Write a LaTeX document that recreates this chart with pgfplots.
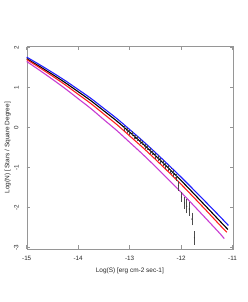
\documentclass[border=0pt]{standalone}
\usepackage{pgfplots}
\pgfplotsset{compat=1.18}
\usepackage{fontspec}
\setmainfont{Liberation Sans}
\definecolor{axgray}{RGB}{150,150,150}
\definecolor{mag}{RGB}{200,60,210}
\definecolor{bl}{RGB}{30,30,255}
\definecolor{rd}{RGB}{255,30,30}
\begin{document}
\begin{tikzpicture}[x=1bp,y=1bp]
\useasboundingbox (0,0) rectangle (248,302);
\begin{axis}[at={(26.7bp,53bp)}, anchor=south west, scale only axis,
 width=206.3bp, height=202.3bp,
 xmin=-15, xmax=-10.99, ymin=-3.04, ymax=2.02,
 axis line style={axgray}, tick style={axgray, line width=0.5bp}, major tick length=3.5bp,
 tick align=inside,
 xtick={-15,-14,-13,-12,-11}, ytick={-3,-2,-1,0,1,2},
 /pgf/number format/assume math mode=true,
 tick label style={font=\fontsize{6.3}{7}\selectfont, text=black!85},
 yticklabel style={rotate=90, anchor=south, inner sep=0pt}, yticklabel shift=8bp,
 xticklabel style={anchor=north, inner sep=0pt}, xticklabel shift=6.5bp,
 label style={font=\fontsize{6.5}{7}\selectfont, text=black!85},
 xlabel={Log(S) [erg cm-2 sec-1]},
 ylabel={Log(N) [ Stars / Square Degree]},
 xlabel style={at={(axis description cs:0.5,-0.107)}, anchor=center},
 ylabel style={at={(axis description cs:-0.092,0.5)}, anchor=center, rotate=0},
 clip=false,
]
\addplot[bl, line width=1.1bp, smooth] coordinates {
(-15,1.76) (-14.75,1.571) (-14.5,1.375) (-14.25,1.17) (-14,0.95) (-13.75,0.725)
(-13.5,0.475) (-13.25,0.225) (-13,-0.05) (-12.75,-0.33) (-12.5,-0.625) (-12.25,-0.93)
(-12,-1.24) (-11.75,-1.563) (-11.5,-1.89) (-11.25,-2.22) (-11.08,-2.45)};
\addplot[black, line width=1.1bp, smooth] coordinates {
(-15,1.72) (-14.75,1.527) (-14.5,1.327) (-14.25,1.119) (-14,0.895) (-13.75,0.667)
(-13.5,0.415) (-13.25,0.162) (-13,-0.115) (-12.75,-0.40) (-12.5,-0.70) (-12.25,-1.01)
(-12,-1.325) (-11.75,-1.658) (-11.5,-1.995) (-11.25,-2.335) (-11.09,-2.55)};
\addplot[rd, line width=1.1bp, smooth] coordinates {
(-15,1.70) (-14.75,1.496) (-14.5,1.285) (-14.25,1.065) (-14,0.83) (-13.75,0.595)
(-13.5,0.335) (-13.25,0.075) (-13,-0.21) (-12.75,-0.495) (-12.5,-0.795) (-12.25,-1.105)
(-12,-1.42) (-11.75,-1.753) (-11.5,-2.09) (-11.25,-2.435) (-11.11,-2.62)};
\addplot[mag, line width=1.1bp, smooth] coordinates {
(-15,1.65) (-14.75,1.431) (-14.5,1.205) (-14.25,0.97) (-14,0.72) (-13.75,0.47)
(-13.5,0.195) (-13.25,-0.075) (-13,-0.37) (-12.75,-0.665) (-12.5,-0.975) (-12.25,-1.295)
(-12,-1.62) (-11.75,-1.958) (-11.5,-2.30) (-11.25,-2.645) (-11.16,-2.78)};
\addplot[black!80, only marks, mark=*, mark size=0.3bp, mark options={fill=black!80, draw=black!80},
 error bars/.cd, y dir=both, y explicit, error mark=-, error mark options={black!70, mark size=0.8bp, line width=0.4bp},
 error bar style={black!70, line width=0.6bp}] table[x=x, y=y, y error=e] {
x y e
-13.10 -0.02 0.04
-13.05 -0.07 0.04
-13.00 -0.12 0.04
-12.95 -0.16 0.04
-12.90 -0.24 0.04
-12.85 -0.28 0.04
-12.80 -0.35 0.04
-12.75 -0.39 0.04
-12.70 -0.47 0.045
-12.65 -0.51 0.045
-12.60 -0.59 0.045
-12.55 -0.63 0.05
-12.50 -0.71 0.05
-12.45 -0.76 0.05
-12.40 -0.84 0.05
-12.35 -0.88 0.055
-12.30 -0.96 0.055
-12.25 -1.01 0.06
-12.20 -1.09 0.06
-12.15 -1.15 0.065
-12.10 -1.25 0.07
-12.05 -1.46 0.10
-11.99 -1.74 0.10
-11.93 -1.89 0.13
-11.89 -1.97 0.15
-11.84 -2.04 0.15
-11.79 -2.29 0.14
-11.74 -2.76 0.15
};
\end{axis}
\end{tikzpicture}
\end{document}
